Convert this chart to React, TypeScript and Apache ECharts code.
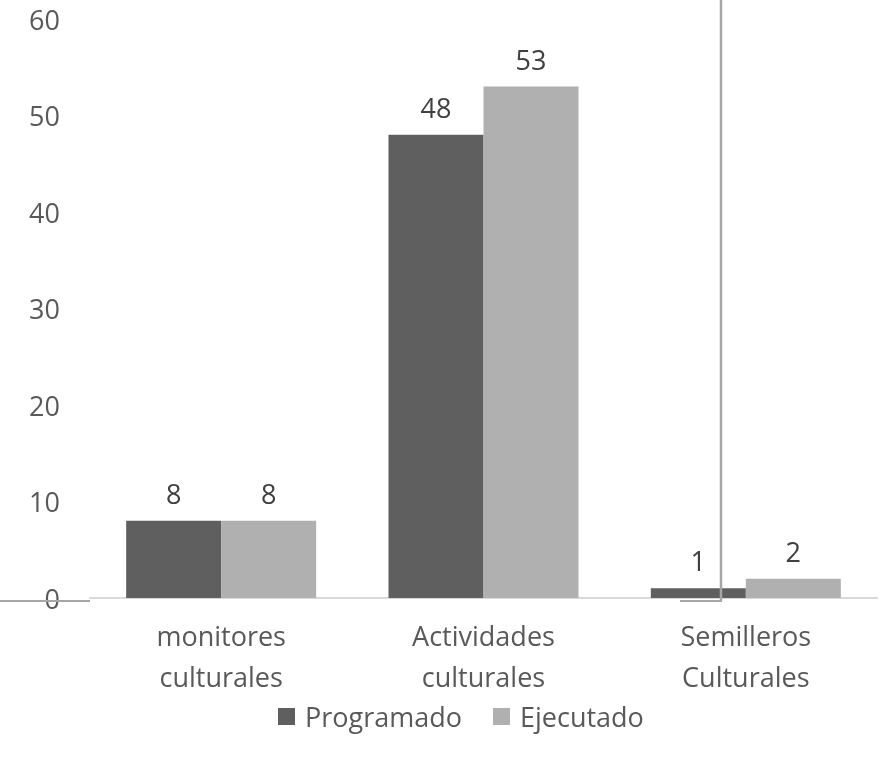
import React, { useEffect, useRef } from "react";
import * as echarts from "echarts";

const categories = ["monitores\nculturales", "Actividades\nculturales", "Semilleros\nCulturales"];
const programado = [8, 48, 1];
const ejecutado = [8, 53, 2];
const seriesNames = ["Programado", "Ejecutado"];

const FONT = "'Open Sans', 'Noto Sans', sans-serif";
const TEXT = "#595959";
const FS = 27;

export default function App() {
  const ref = useRef<HTMLDivElement>(null);
  useEffect(() => {
    const chart = echarts.init(ref.current!, null, { renderer: "svg" });
    chart.setOption({
      animation: false,
      textStyle: { fontFamily: FONT },
      grid: { left: 90, right: 7, top: 19, bottom: 165, containLabel: false },
      legend: {
        top: 698,
        left: 273,
        itemWidth: 17,
        itemHeight: 17,
        itemGap: 31,
        icon: "rect",
        textStyle: { fontFamily: FONT, fontSize: FS, color: TEXT, padding: [0, 0, 0, 5] },
        data: seriesNames,
      },
      xAxis: {
        type: "category",
        data: categories,
        axisLine: { show: true, lineStyle: { color: "#d9d9d9", width: 2 } },
        axisTick: { show: false },
        axisLabel: { fontFamily: FONT, fontSize: FS, color: TEXT, lineHeight: 41, margin: 17 },
      },
      yAxis: {
        type: "value",
        min: 0,
        max: 60,
        interval: 10,
        splitLine: { show: false },
        axisLine: { show: false },
        axisTick: { show: false },
        axisLabel: { fontFamily: FONT, fontSize: FS, color: TEXT, margin: 30 },
      },
      series: [
        {
          name: seriesNames[0],
          type: "bar",
          data: programado,
          barWidth: 95,
          barGap: "0%",
          itemStyle: { color: "#5f5f5f" },
          label: { show: true, position: "top", distance: 14, fontFamily: FONT, fontSize: FS, color: "#404040" },
        },
        {
          name: seriesNames[1],
          type: "bar",
          data: ejecutado,
          barWidth: 95,
          barGap: "0%",
          itemStyle: { color: "#b0b0b0" },
          label: { show: true, position: "top", distance: 14, fontFamily: FONT, fontSize: FS, color: "#404040" },
        },
      ],
      graphic: [
        { type: "line", shape: { x1: 0, y1: 601, x2: 90, y2: 601 }, style: { stroke: "#a6a6a6", lineWidth: 2 }, z: 10 },
        { type: "line", shape: { x1: 680, y1: 601, x2: 722, y2: 601 }, style: { stroke: "#a6a6a6", lineWidth: 2 }, z: 10 },
        { type: "line", shape: { x1: 721, y1: 0, x2: 721, y2: 601 }, style: { stroke: "#a6a6a6", lineWidth: 2.5 }, z: 10 },
      ],
    });
    return () => chart.dispose();
  }, []);
  return <div ref={ref} style={{ position: "fixed", left: 0, top: 0, width: 884, height: 763 }} />;
}
